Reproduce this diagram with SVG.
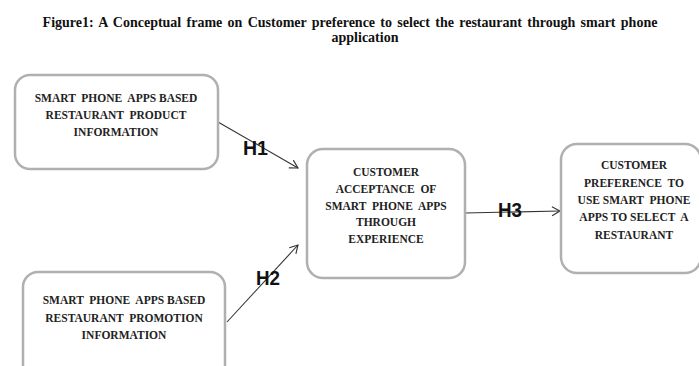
<svg xmlns="http://www.w3.org/2000/svg" width="699" height="366" viewBox="0 0 699 366">
<style>
.box{fill:#fff;stroke:#b0b0b0;stroke-width:2.5}
.t{font-family:"Liberation Serif","Times New Roman",serif;font-weight:bold;font-size:11.5px;fill:#222;text-anchor:middle;white-space:pre}
.title{font-family:"Liberation Serif","Times New Roman",serif;font-weight:bold;font-size:14px;fill:#111}
.h{font-family:"Liberation Sans",Arial,sans-serif;font-weight:bold;font-size:20px;fill:#111}
.c{stroke:#333;stroke-width:1.1;fill:none}
</style>
<defs>
<marker id="arr" markerWidth="12" markerHeight="12" refX="9" refY="5" orient="auto" markerUnits="userSpaceOnUse">
<path d="M1,0.5 L9,5 L1,9.5" fill="none" stroke="#333" stroke-width="1.1"/>
</marker>
</defs>
<rect width="699" height="366" fill="#fff"/>
<g id="title">
<text class="title" x="350" y="27" text-anchor="middle" word-spacing="1.8">Figure1: A Conceptual frame on Customer preference to select the restaurant through smart phone</text>
<text class="title" x="365" y="42" text-anchor="middle">application</text>
</g>
<g id="connectors">
<line class="c" x1="218" y1="122" x2="298" y2="168" marker-end="url(#arr)"/>
<line class="c" x1="227" y1="322" x2="298" y2="245" marker-end="url(#arr)"/>
<line class="c" x1="465" y1="213" x2="560" y2="211" marker-end="url(#arr)"/>
<text class="h" x="243" y="155" textLength="25" lengthAdjust="spacingAndGlyphs">H1</text>
<text class="h" x="256" y="285" textLength="24" lengthAdjust="spacingAndGlyphs">H2</text>
<text class="h" x="498" y="217" textLength="24" lengthAdjust="spacingAndGlyphs">H3</text>
</g>
<g id="node-product">
<rect class="box" x="15" y="75" width="203" height="94" rx="15"/>
<text class="t" x="116" y="102">SMART  PHONE  APPS BASED</text>
<text class="t" x="116" y="119">RESTAURANT  PRODUCT</text>
<text class="t" x="116" y="136">INFORMATION</text>
</g>
<g id="node-promotion">
<rect class="box" x="23" y="272" width="202" height="110" rx="15"/>
<text class="t" x="124" y="304">SMART  PHONE  APPS BASED</text>
<text class="t" x="124" y="322">RESTAURANT  PROMOTION</text>
<text class="t" x="124" y="339">INFORMATION</text>
</g>
<g id="node-acceptance">
<rect class="box" x="307" y="149" width="158" height="129" rx="16"/>
<text class="t" x="386" y="176">CUSTOMER</text>
<text class="t" x="386" y="193">ACCEPTANCE  OF</text>
<text class="t" x="386" y="210">SMART  PHONE  APPS</text>
<text class="t" x="386" y="226">THROUGH</text>
<text class="t" x="386" y="243">EXPERIENCE</text>
</g>
<g id="node-preference">
<rect class="box" x="561" y="144" width="140" height="129" rx="16"/>
<text class="t" x="634" y="169">CUSTOMER</text>
<text class="t" x="634" y="187">PREFERENCE  TO</text>
<text class="t" x="634" y="204">USE SMART  PHONE</text>
<text class="t" x="634" y="221">APPS TO SELECT  A</text>
<text class="t" x="634" y="239">RESTAURANT</text>
</g>
</svg>
